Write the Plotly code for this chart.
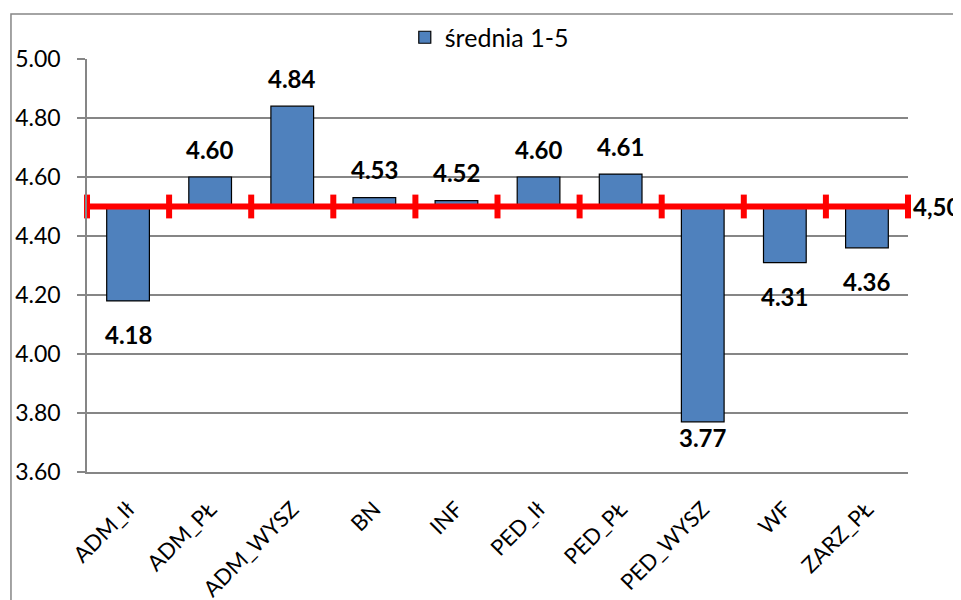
import plotly.graph_objects as go

categories = ["ADM_Ił", "ADM_PŁ", "ADM_WYSZ", "BN", "INF", "PED_Ił", "PED_PŁ", "PED_WYSZ", "WF", "ZARZ_PŁ"]
srednia = [4.18, 4.60, 4.84, 4.53, 4.52, 4.60, 4.61, 3.77, 4.31, 4.36]
prog = 4.50
y_ticks = [3.6, 3.8, 4.0, 4.2, 4.4, 4.6, 4.8, 5.0]

FONT = "Lato"
GRAY = "#868686"

fig = go.Figure()

# słupki od linii 4.50 w górę lub w dół
fig.add_trace(go.Bar(
    x=list(range(len(categories))),
    y=[v - prog for v in srednia],
    base=prog,
    width=0.52,
    name="średnia 1-5",
    marker=dict(color="#4F81BD", line=dict(color="black", width=1.2)),
    hoverinfo="skip",
))

# czerwona linia progu z kreskami na granicach kategorii
edges = [i - 0.5 for i in range(len(categories) + 1)]
fig.add_trace(go.Scatter(
    x=edges,
    y=[prog] * len(edges),
    mode="lines+markers",
    line=dict(color="#FF0000", width=6),
    marker=dict(symbol="line-ns", size=17, line=dict(color="#FF0000", width=6)),
    cliponaxis=False,
    showlegend=False,
    hoverinfo="skip",
))
fig.add_annotation(
    x=edges[-1], y=prog, text=f"{prog:.2f}".replace(".", ","),
    showarrow=False, xanchor="left", yanchor="middle", xshift=3,
    font=dict(family=FONT, size=24, color="black", weight="bold"),
)

# etykiety wartości
for i, v in enumerate(srednia):
    if v >= prog:
        shift = 28
    elif v - y_ticks[0] < 0.3:
        shift = -16
    else:
        shift = -34
    fig.add_annotation(
        x=i, y=v, text=f"{v:.2f}", showarrow=False,
        yanchor="middle", yshift=shift,
        font=dict(family=FONT, size=24, color="black", weight="bold"),
    )

# ramka obszaru wykresu
fig.add_shape(
    type="rect", xref="paper", yref="paper",
    x0=-0.0926, x1=1.3, y0=-0.6, y1=1.109,
    line=dict(color=GRAY, width=1.5), layer="below",
)

fig.update_layout(
    width=961, height=600,
    margin=dict(l=79, r=61, t=51, b=136, autoexpand=False),
    paper_bgcolor="white", plot_bgcolor="white",
    font=dict(family=FONT, size=22, color="black"),
    showlegend=True,
    legend=dict(
        orientation="h", x=0.49, xanchor="center", y=1.052, yanchor="middle",
        font=dict(family=FONT, size=25), bgcolor="rgba(0,0,0,0)",
        itemwidth=30,
    ),
    xaxis=dict(
        range=[-0.5, len(categories) - 0.5],
        tickvals=list(range(len(categories))),
        ticktext=categories,
        tickangle=-45,
        showgrid=False, zeroline=False,
        showline=True, linecolor=GRAY, linewidth=1.5,
        ticks="", ticklabelstandoff=14,
        tickfont=dict(family=FONT, size=22),
        automargin=False,
    ),
    yaxis=dict(
        range=[3.6, 5.0],
        tickvals=y_ticks,
        tickformat=".2f",
        showgrid=True, gridcolor=GRAY, gridwidth=1.5,
        zeroline=False,
        showline=True, linecolor=GRAY, linewidth=1.5,
        ticks="outside", ticklen=8, tickcolor=GRAY, tickwidth=1.5,
        ticklabelstandoff=12,
        tickfont=dict(family=FONT, size=23),
        automargin=False,
    ),
)

fig.write_html("out.html")
